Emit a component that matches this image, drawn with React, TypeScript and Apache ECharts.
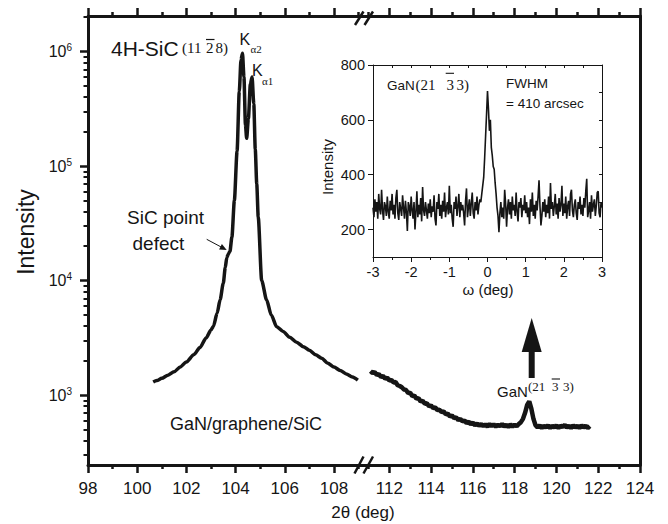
import React, { useEffect, useRef } from 'react';
import * as echarts from 'echarts';

// ---------- data ----------
// main 2θ scan, left of the axis break: [2θ (deg), intensity]
const scanLeft: [number, number][] = [
  [100.65, 1300], [100.8, 1340], [101.0, 1400], [101.25, 1490], [101.5, 1600], [101.75, 1760],
  [102.0, 1950], [102.3, 2250], [102.55, 2600], [102.8, 3150], [103.0, 3700], [103.1, 4000],
  [103.25, 5200], [103.37, 6800], [103.5, 9500], [103.58, 13000], [103.64, 15800], [103.7, 17000],
  [103.77, 18000], [103.85, 24000], [103.95, 50000], [104.06, 135000], [104.15, 450000],
  [104.22, 850000], [104.28, 970000], [104.34, 600000], [104.4, 230000], [104.45, 175000],
  [104.52, 260000], [104.6, 520000], [104.67, 600000], [104.74, 350000], [104.8, 140000],
  [104.86, 70000], [104.92, 36000], [105.06, 10000], [105.26, 6800], [105.45, 5000],
  [105.67, 3950], [105.93, 3600], [106.2, 3200], [106.48, 2900], [106.75, 2650], [107.0, 2460],
  [107.25, 2250], [107.5, 2100], [107.75, 1900], [108.0, 1760], [108.25, 1640], [108.5, 1530],
  [108.75, 1440], [108.97, 1350],
];

// main 2θ scan, right of the axis break
const scanRight: [number, number][] = [
  [111.1, 1620], [111.2, 1560], [111.3, 1590], [111.4, 1500], [111.5, 1530], [111.6, 1440],
  [111.7, 1470], [111.8, 1390], [111.9, 1420], [112.0, 1340], [112.1, 1360], [112.2, 1290],
  [112.3, 1300], [112.4, 1220], [112.5, 1200], [112.6, 1170], [112.7, 1120], [112.8, 1110],
  [112.9, 1040], [113.0, 1050], [113.1, 980], [113.2, 990], [113.3, 930], [113.4, 940],
  [113.5, 880], [113.6, 890], [113.7, 840], [113.8, 850], [113.9, 800], [114.0, 810],
  [114.1, 770], [114.2, 780], [114.3, 740], [114.4, 745], [114.5, 710], [114.6, 720],
  [114.7, 680], [114.8, 690], [114.9, 650], [115.0, 665], [115.1, 630], [115.2, 640],
  [115.3, 605], [115.4, 620], [115.5, 590], [115.6, 600], [115.7, 570], [115.8, 585],
  [115.9, 555], [116.0, 575], [116.1, 545], [116.2, 565], [116.3, 540], [116.4, 560],
  [116.5, 535], [116.6, 555], [116.7, 530], [116.8, 560], [116.9, 535], [117.0, 555],
  [117.1, 530], [117.2, 550], [117.3, 535], [117.4, 560], [117.5, 530], [117.6, 550],
  [117.7, 525], [117.8, 555], [117.9, 530], [118.0, 550], [118.1, 535], [118.2, 560],
  [118.3, 580], [118.4, 620], [118.5, 700], [118.6, 820], [118.7, 880], [118.8, 760],
  [118.9, 620], [119.0, 545], [119.1, 520], [119.2, 545], [119.3, 515], [119.4, 540],
  [119.5, 520], [119.6, 545], [119.7, 515], [119.8, 540], [119.9, 520], [120.0, 545],
  [120.1, 515], [120.2, 540], [120.3, 525], [120.4, 550], [120.5, 520], [120.6, 540],
  [120.7, 515], [120.8, 545], [120.9, 520], [121.0, 540], [121.1, 515], [121.2, 545],
  [121.3, 520], [121.4, 540], [121.5, 515], [121.6, 535],
];

// inset rocking curve: ω from -3 to 3 deg, step 0.025
const omegaStart = -3;
const omegaStep = 0.025;
const rockingIntensity: number[] = [
  280, 245, 310, 265, 300, 240, 330, 275, 255, 345, 270, 235, 300, 285, 250, 320, 265, 240, 305, 270,
  330, 255, 290, 240, 315, 345, 260, 235, 300, 275, 250, 325, 280, 240, 305, 265, 195, 300, 285, 250,
  320, 270, 240, 300, 200, 265, 340, 245, 290, 255, 315, 230, 355, 270, 250, 300, 270, 240, 295, 260,
  310, 245, 285, 265, 325, 240, 215, 300, 275, 330, 250, 290, 240, 305, 265, 335, 245, 280, 300, 255,
  360, 260, 290, 240, 210, 300, 275, 320, 250, 285, 330, 245, 300, 270, 290, 260, 215, 305, 350, 245,
  280, 310, 250, 295, 335, 260, 240, 300, 270, 320, 255, 290, 310, 300, 330, 360, 390, 460, 540, 620,
  705, 640, 560, 600, 500, 470, 430, 420, 370, 330, 280, 250, 190, 260, 300, 245, 280, 240, 345, 295,
  210, 280, 310, 255, 300, 240, 320, 270, 290, 250, 335, 265, 230, 300, 280, 315, 245, 290, 270, 325,
  260, 300, 245, 280, 220, 310, 265, 335, 250, 290, 240, 305, 270, 320, 380, 285, 215, 250, 300, 265,
  310, 245, 290, 260, 320, 240, 370, 275, 300, 250, 285, 330, 255, 295, 240, 315, 265, 290, 360, 250,
  295, 260, 320, 240, 285, 305, 250, 330, 345, 270, 245, 290, 310, 260, 235, 300, 275, 320, 255, 290,
  250, 315, 280, 340, 385, 245, 270, 300, 240, 325, 265, 290, 310, 250, 285, 335, 340, 260, 245, 300,
  280,
];

// axis ranges and ticks
const xRangeLeft = [98, 109.22];
const xRangeRight = [110.79, 124];
const xMajorLeft = [98, 100, 102, 104, 106, 108];
const xMinorLeft = [99, 101, 103, 105, 107, 109];
const xMajorRight = [112, 114, 116, 118, 120, 122, 124];
const xMinorRight = [111, 113, 115, 117, 119, 121, 123];
const yRange = [245, 2.05e6];
const yMajor = [1e3, 1e4, 1e5, 1e6];
const yMinor = [
  300, 400, 500, 600, 700, 800, 900,
  2000, 3000, 4000, 5000, 6000, 7000, 8000, 9000,
  20000, 30000, 40000, 50000, 60000, 70000, 80000, 90000,
  200000, 300000, 400000, 500000, 600000, 700000, 800000, 900000,
  2000000,
];
const insetXRange = [-3, 3];
const insetXMajor = [-3, -2, -1, 0, 1, 2, 3];
const insetXMinor = [-2.5, -1.5, -0.5, 0.5, 1.5, 2.5];
const insetXTop = [-2.5, -2, -1.5, -1, -0.5, 0, 0.5, 1, 1.5, 2, 2.5];
const insetYRange = [100, 800];
const insetYMajor = [200, 400, 600, 800];
const insetYRightTicks = [200, 300, 400, 500, 600, 700];

// ---------- styling ----------
const INK = '#151515';
const SANS = 'Liberation Sans, Arial, sans-serif';
const SERIF = 'Liberation Serif, Times New Roman, serif';

function xAx(grid: number, range: number[], position: 'top' | 'bottom', ticks: number[], len: number, o: any = {}) {
  return {
    type: 'value', gridIndex: grid, position, min: range[0], max: range[1],
    splitLine: { show: false },
    axisLine: { show: !!o.line, onZero: false, lineStyle: { color: INK, width: o.line || 1 } },
    axisTick: { show: true, inside: !!o.inside, length: len, customValues: ticks, lineStyle: { color: INK, width: o.tw || 2 } },
    axisLabel: o.label
      ? { show: true, customValues: ticks, color: INK, fontFamily: SANS, fontSize: o.label, margin: o.margin }
      : { show: false },
  };
}

function yAx(grid: number, range: number[], position: 'left' | 'right', ticks: number[], len: number, o: any = {}) {
  return {
    type: o.type || 'value', gridIndex: grid, position, min: range[0], max: range[1],
    splitLine: { show: false },
    axisLine: { show: !!o.line, onZero: false, lineStyle: { color: INK, width: o.line || 1 } },
    axisTick: ticks.length
      ? { show: true, inside: !!o.inside, length: len, customValues: ticks, lineStyle: { color: INK, width: o.tw || 2 } }
      : { show: false },
    axisLabel: o.label
      ? { show: true, customValues: ticks, color: INK, fontFamily: SANS, fontSize: o.label, margin: o.margin, formatter: o.formatter, rich: o.rich }
      : { show: false },
  };
}

const lg = (v: number) => Math.log10(v);
const yLogRange = yRange.map(lg);

function txt(x: number, y: number, text: string, size: number, family = SANS, align = 'left', extra: any = {}) {
  return {
    type: 'text', x, y, ...extra,
    style: {
      text, fill: INK, fontSize: size, fontFamily: family,
      textAlign: align, align, textVerticalAlign: 'middle', verticalAlign: 'middle',
    },
  };
}
function seg(x1: number, y1: number, x2: number, y2: number, w: number) {
  return { type: 'line', shape: { x1, y1, x2, y2 }, style: { stroke: INK, lineWidth: w } };
}

function buildOption(): any {
  return {
    animation: false,
    backgroundColor: '#ffffff',
    grid: [
      { left: 88, top: 16, width: 276, height: 449 },
      { left: 364, top: 16, width: 276, height: 449 },
      { left: 373, top: 65, width: 229, height: 192 },
    ],
    xAxis: [
      xAx(0, xRangeLeft, 'bottom', xMajorLeft, 8, { line: 3, tw: 2.5, label: 17, margin: 15 }),
      xAx(0, xRangeLeft, 'bottom', xMinorLeft, 4, { tw: 2.5 }),
      xAx(0, xRangeLeft, 'top', xMajorLeft, 8, { line: 3, tw: 2.5 }),
      xAx(0, xRangeLeft, 'top', xMinorLeft, 4, { tw: 2.5 }),
      xAx(1, xRangeRight, 'bottom', xMajorRight, 8, { line: 3, tw: 2.5, label: 17, margin: 15 }),
      xAx(1, xRangeRight, 'bottom', xMinorRight, 4, { tw: 2.5 }),
      xAx(1, xRangeRight, 'top', xMajorRight, 8, { line: 3, tw: 2.5 }),
      xAx(1, xRangeRight, 'top', xMinorRight, 4, { tw: 2.5 }),
      xAx(2, insetXRange, 'bottom', insetXMajor, 5, { line: 1, tw: 1, label: 14.5, margin: 7 }),
      xAx(2, insetXRange, 'bottom', insetXMinor, 3, { tw: 1 }),
      xAx(2, insetXRange, 'top', insetXTop, 3, { line: 1, tw: 1, inside: true }),
    ],
    yAxis: [
      yAx(0, yRange, 'left', [], 0, { type: 'log', line: 3 }),
      yAx(0, yLogRange, 'left', yMajor.map(lg), 8, {
        tw: 2.5, label: 16, margin: 16,
        formatter: (v: number) => `{b|10}{s|${Math.round(v)}}`,
        rich: {
          b: { fontSize: 16, fontFamily: SANS, color: INK, lineHeight: 18 },
          s: { fontSize: 10, fontFamily: SANS, color: INK, verticalAlign: 'top', lineHeight: 12 },
        },
      }),
      yAx(0, yLogRange, 'left', yMinor.map(lg), 4.5, { tw: 2 }),
      yAx(1, yRange, 'right', [], 0, { type: 'log', line: 3 }),
      yAx(2, insetYRange, 'left', insetYMajor, 5, { line: 1, tw: 1, label: 14.5, margin: 8 }),
      yAx(2, insetYRange, 'right', insetYRightTicks, 3, { line: 1, tw: 1, inside: true }),
    ],
    series: [
      {
        type: 'line', xAxisIndex: 0, yAxisIndex: 0, data: scanLeft, showSymbol: false, symbol: 'none',
        smooth: 0.25, smoothMonotone: 'x',
        lineStyle: { color: INK, width: 3.5 }, itemStyle: { color: INK }, silent: true,
      },
      {
        type: 'line', xAxisIndex: 4, yAxisIndex: 3, data: scanRight, showSymbol: false, symbol: 'none',
        lineStyle: { color: INK, width: 4.5 }, itemStyle: { color: INK }, silent: true,
      },
      {
        type: 'line', xAxisIndex: 8, yAxisIndex: 4,
        data: rockingIntensity.map((v, i) => [+(omegaStart + i * omegaStep).toFixed(3), v]),
        showSymbol: false, symbol: 'none',
        lineStyle: { color: INK, width: 1.6 }, itemStyle: { color: INK }, silent: true,
      },
    ],
    graphic: [
      // axis break marks
      seg(355, 25, 363.5, 11.5, 2.5), seg(364.5, 25, 373, 11.5, 2.5),
      seg(354.5, 473.5, 363.5, 456.5, 2.5), seg(363.5, 473.5, 373, 456.5, 2.5),
      // axis titles
      txt(26, 232, 'Intensity', 23, SANS, 'center', { rotation: Math.PI / 2 }),
      txt(363, 512, '2θ (deg)', 17, SANS, 'center'),
      txt(327, 167, 'Intensity', 15, SANS, 'center', { rotation: Math.PI / 2 }),
      txt(488, 289, 'ω (deg)', 15, SANS, 'center'),
      // 4H-SiC (11-28)
      txt(111, 48, '4H-SiC', 21),
      txt(182, 48, '(11', 15, SERIF),
      txt(206, 48, '2', 15, SERIF),
      txt(215.5, 48, '8)', 15, SERIF),
      seg(206, 39.5, 214.5, 39.5, 1.2),
      // K alpha labels
      txt(239.5, 39, 'K', 16),
      txt(250.5, 48.5, 'α2', 11, SERIF),
      txt(252, 70, 'K', 16),
      txt(262, 80.5, 'α1', 11, SERIF),
      // SiC point defect
      txt(127, 217, 'SiC point', 19),
      txt(132.5, 243, 'defect', 19),
      seg(206.7, 239.3, 221.5, 247.2, 1),
      { type: 'polygon', shape: { points: [[226.7, 250], [219.1, 249.4], [221.9, 244]] }, style: { fill: INK } },
      // sample label
      txt(170, 424, 'GaN/graphene/SiC', 18),
      // GaN (21-33) peak label and arrow
      txt(497, 391, 'GaN', 15),
      txt(528, 386, '(21', 13, SERIF),
      txt(552, 386, '3', 13, SERIF),
      txt(563, 386, '3)', 13, SERIF),
      seg(551.7, 379, 560, 379, 1.1),
      { type: 'rect', shape: { x: 528.7, y: 348, width: 6, height: 30 }, style: { fill: INK } },
      { type: 'polygon', shape: { points: [[521.7, 352], [541.7, 352], [531.7, 318]] }, style: { fill: INK } },
      // inset labels
      txt(387, 85, 'GaN', 13.5),
      txt(415.5, 85, '(21', 15, SERIF),
      txt(446.5, 85, '3', 15, SERIF),
      txt(456.5, 85, '3)', 15, SERIF),
      seg(445.7, 73.3, 454, 73.3, 1.1),
      txt(506, 83, 'FWHM', 13.5),
      txt(506, 103, '= 410 arcsec', 13.5),
    ],
  };
}

export default function App() {
  const ref = useRef<HTMLDivElement>(null);
  useEffect(() => {
    if (!ref.current) return;
    const chart = echarts.init(ref.current, null, { renderer: 'svg' });
    chart.setOption(buildOption());
    return () => chart.dispose();
  }, []);
  return (
    <div
      ref={ref}
      style={{ position: 'absolute', left: 0, top: 0, width: 668, height: 524, background: '#fff' }}
    />
  );
}
